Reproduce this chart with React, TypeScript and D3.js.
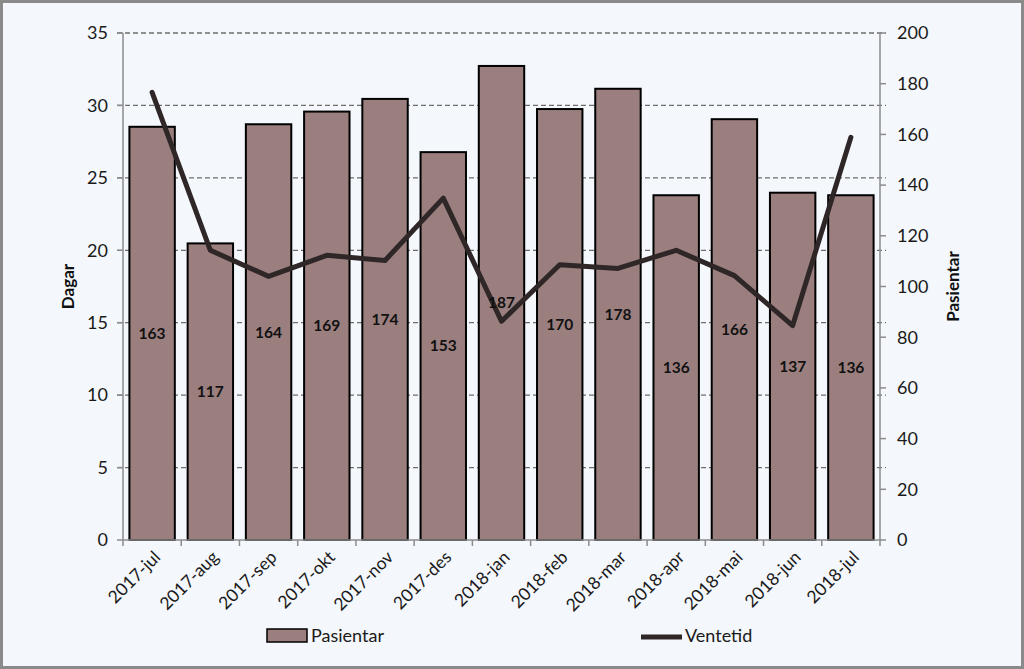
import React from "react";
import * as d3 from "d3";

const categories = ["2017-jul","2017-aug","2017-sep","2017-okt","2017-nov","2017-des","2018-jan","2018-feb","2018-mar","2018-apr","2018-mai","2018-jun","2018-jul"];
const pasientar = [163,117,164,169,174,153,187,170,178,136,166,137,136];
const ventetid = [30.9,20.0,18.2,19.65,19.3,23.6,15.1,19.0,18.75,20.0,18.25,14.8,27.8];
const leftTicks = [0,5,10,15,20,25,30,35];
const rightTicks = [0,20,40,60,80,100,120,140,160,180,200];

const W = 1024, H = 669;
const M = { left: 123, right: 880, top: 33, bottom: 540 };
const FONT = "Lato, 'Open Sans', sans-serif";

export default function App() {
  const x = d3.scaleBand<string>().domain(categories).range([M.left, M.right]).paddingInner(0.22).paddingOuter(0.11);
  const xb = d3.scaleBand<string>().domain(categories).range([M.left, M.right]);
  const yL = d3.scaleLinear().domain([0, 35]).range([M.bottom, M.top]);
  const yR = d3.scaleLinear().domain([0, 200]).range([M.bottom, M.top]);
  const line = d3.line<number>().x((_, i) => xb(categories[i])! + xb.bandwidth() / 2).y((d) => yL(d));
  const axisCol = "#8c8c8c";
  return (
    <svg width={W} height={H} style={{ position: "absolute", left: 0, top: 0 }}>
      <rect x={1.5} y={1.5} width={W - 3} height={H - 3} fill="#f4f7fb" stroke="#8a8a8a" strokeWidth={3} />
      {leftTicks.filter((t) => t > 0).map((t) => (
        <line key={t} x1={M.left - 6} x2={M.right + 6} y1={yL(t)} y2={yL(t)} stroke="#6e6e6e" strokeWidth={1.3} strokeDasharray="5,3" />
      ))}
      {categories.map((c, i) => {
        const bx = x(c)!, by = yR(pasientar[i]);
        return (
          <g key={c}>
            <rect x={bx} y={by} width={x.bandwidth()} height={M.bottom - by} fill="#9b7f7f" stroke="#000" strokeWidth={2} />
          </g>
        );
      })}
      <line x1={M.left} x2={M.left} y1={M.top} y2={M.bottom} stroke={axisCol} strokeWidth={1.5} />
      <line x1={M.right} x2={M.right} y1={M.top} y2={M.bottom} stroke={axisCol} strokeWidth={1.5} />
      <line x1={M.left} x2={M.right} y1={M.bottom} y2={M.bottom} stroke={axisCol} strokeWidth={1.5} />
      {leftTicks.map((t) => (
        <g key={t}>
          <line x1={M.left - 6} x2={M.left} y1={yL(t)} y2={yL(t)} stroke={axisCol} strokeWidth={1.5} />
          <text x={108} y={yL(t)} dy="0.35em" textAnchor="end" fontFamily={FONT} fontSize={18} fill="#1a1a1a">{t}</text>
        </g>
      ))}
      {rightTicks.map((t) => (
        <g key={t}>
          <line x1={M.right} x2={M.right + 6} y1={yR(t)} y2={yR(t)} stroke={axisCol} strokeWidth={1.5} />
          <text x={897} y={yR(t)} dy="0.35em" textAnchor="start" fontFamily={FONT} fontSize={18} fill="#1a1a1a">{t}</text>
        </g>
      ))}
      {xb.domain().concat(["end"]).map((c, i) => {
        const tx = M.left + i * xb.bandwidth();
        return <line key={c} x1={tx} x2={tx} y1={M.bottom} y2={M.bottom + 6} stroke={axisCol} strokeWidth={1.5} />;
      })}
      {categories.map((c) => {
        const cx = xb(c)! + xb.bandwidth() / 2;
        return (
          <text key={c} transform={`translate(${cx + 5},${M.bottom + 14}) rotate(-45)`} textAnchor="end" dy="0.35em" fontFamily={FONT} fontSize={17.5} fill="#1a1a1a">{c}</text>
        );
      })}
      <path d={line(ventetid)!} fill="none" stroke="#2f2727" strokeWidth={5} strokeLinejoin="round" strokeLinecap="round" />
      {categories.map((c, i) => {
        const cx = xb(c)! + xb.bandwidth() / 2;
        const by = yR(pasientar[i]);
        return (
          <text key={c} x={cx} y={(by + M.bottom) / 2} dy="0.35em" textAnchor="middle" fontFamily={FONT} fontWeight="bold" fontSize={15.5} fill="#111">{pasientar[i]}</text>
        );
      })}
      <text transform={`translate(74,${(M.top + M.bottom) / 2 + 0}) rotate(-90)`} textAnchor="middle" fontFamily={FONT} fontWeight="bold" fontSize={17} fill="#111">Dagar</text>
      <text transform={`translate(959,${(M.top + M.bottom) / 2}) rotate(-90)`} textAnchor="middle" fontFamily={FONT} fontWeight="bold" fontSize={17} fill="#111">Pasientar</text>
      <rect x={267} y={629} width={40} height={13} fill="#9b7f7f" stroke="#000" strokeWidth={1.5} />
      <text x={311} y={636} dy="0.35em" fontFamily={FONT} fontSize={18} fill="#1a1a1a">Pasientar</text>
      <line x1={641} x2={682} y1={637} y2={637} stroke="#2f2727" strokeWidth={5} />
      <text x={685} y={636} dy="0.35em" fontFamily={FONT} fontSize={18} fill="#1a1a1a">Ventetid</text>
    </svg>
  );
}
